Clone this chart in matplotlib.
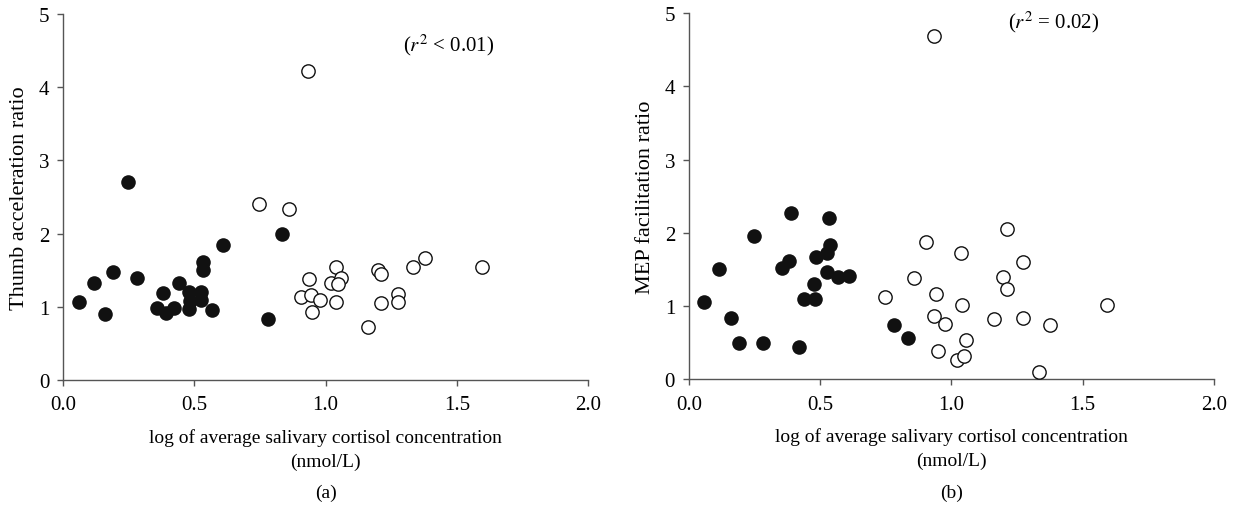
import matplotlib
matplotlib.use('Agg')
import matplotlib.pyplot as plt

plt.rcParams['font.family'] = ['Liberation Serif', 'DejaVu Serif']
plt.rcParams['mathtext.fontset'] = 'stix'

# (a) Thumb acceleration ratio
a_filled_x = [0.060, 0.116, 0.160, 0.191, 0.248, 0.280, 0.358, 0.381, 0.391, 0.422,
              0.441, 0.478, 0.480, 0.485, 0.527, 0.527, 0.534, 0.534, 0.569, 0.608,
              0.780, 0.833]
a_filled_y = [1.06, 1.33, 0.90, 1.48, 2.70, 1.39, 0.98, 1.19, 0.91, 0.99,
              1.33, 1.20, 0.97, 1.08, 1.20, 1.09, 1.61, 1.50, 0.96, 1.84,
              0.83, 1.99]
a_open_x = [0.934, 0.748, 0.859, 0.937, 0.907, 0.943, 0.980, 0.950, 1.038, 1.022,
            1.058, 1.049, 1.041, 1.163, 1.200, 1.210, 1.213, 1.275, 1.277, 1.334,
            1.378, 1.595]
a_open_y = [4.22, 2.40, 2.34, 1.38, 1.13, 1.16, 1.10, 0.93, 1.54, 1.32,
            1.40, 1.31, 1.07, 0.73, 1.50, 1.45, 1.05, 1.17, 1.07, 1.55,
            1.67, 1.54]

# (b) MEP facilitation ratio
b_filled_x = [0.059, 0.116, 0.160, 0.191, 0.248, 0.281, 0.355, 0.380, 0.390, 0.421,
              0.439, 0.479, 0.478, 0.484, 0.526, 0.527, 0.536, 0.534, 0.568, 0.609,
              0.780, 0.834]
b_filled_y = [1.05, 1.50, 0.84, 0.50, 1.95, 0.50, 1.52, 1.62, 2.27, 0.44,
              1.10, 1.10, 1.30, 1.67, 1.46, 1.72, 1.84, 2.20, 1.40, 1.41,
              0.74, 0.57]
b_open_x = [0.934, 0.747, 0.857, 0.905, 0.941, 0.934, 0.977, 0.948, 1.038, 1.040,
            1.056, 1.022, 1.049, 1.164, 1.198, 1.210, 1.212, 1.273, 1.271, 1.332,
            1.376, 1.592]
b_open_y = [4.69, 1.13, 1.39, 1.88, 1.16, 0.86, 0.76, 0.39, 1.72, 1.02,
            0.53, 0.26, 0.32, 0.82, 1.40, 1.23, 2.05, 1.60, 0.84, 0.10,
            0.74, 1.02]

panels = [
    ('Thumb acceleration ratio', a_filled_x, a_filled_y, a_open_x, a_open_y,
     r'($r^2$ < 0.01)', (1.47, 4.59), '(a)'),
    ('MEP facilitation ratio', b_filled_x, b_filled_y, b_open_x, b_open_y,
     r'($r^2$ = 0.02)', (1.39, 4.89), '(b)'),
]

fig = plt.figure(figsize=(12.34, 5.10), dpi=100)
rects = [[0.0511, 0.2529, 0.4254, 0.7176], [0.5583, 0.2543, 0.4254, 0.7180]]
spine_col = '#555555'

for rect, (ylab, fx, fy, ox, oy, note, note_xy, tag) in zip(rects, panels):
    ax = fig.add_axes(rect)
    ax.plot(fx, fy, 'o', color='#111111', markersize=10.5, markeredgewidth=0,
            clip_on=False, zorder=3)
    ax.plot(ox, oy, 'o', markerfacecolor='white', markeredgecolor='#111111',
            markersize=9.6, markeredgewidth=1.0, clip_on=False, zorder=3)
    ax.set_xlim(0, 2.0)
    ax.set_ylim(0, 5)
    ax.set_xticks([0.0, 0.5, 1.0, 1.5, 2.0])
    ax.set_xticklabels(['0.0', '0.5', '1.0', '1.5', '2.0'])
    ax.set_yticks([0, 1, 2, 3, 4, 5])
    for s in ['top', 'right']:
        ax.spines[s].set_visible(False)
    for s in ['left', 'bottom']:
        ax.spines[s].set_color(spine_col)
        ax.spines[s].set_linewidth(1.0)
    ax.tick_params(direction='out', length=4, width=1.0, color=spine_col,
                   labelsize=15, pad=6)
    ax.tick_params(axis='x', pad=7)
    ax.set_ylabel(ylab, fontsize=16, labelpad=7)
    ax.set_xlabel('log of average salivary cortisol concentration\n(nmol/L)',
                  fontsize=14, labelpad=10, linespacing=1.5)
    ax.text(note_xy[0], note_xy[1], note, fontsize=15, ha='center', va='center')
    fig.text(rect[0] + rect[2] / 2, 0.015, tag, fontsize=14, ha='center', va='bottom')

fig.savefig('out.png', dpi=100)
